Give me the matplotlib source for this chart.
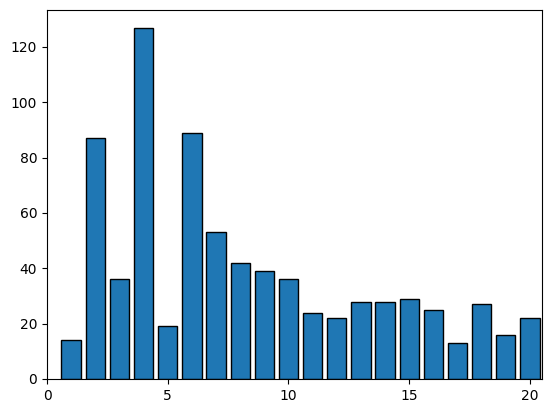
import numpy as np
import matplotlib
matplotlib.use('Agg')
import matplotlib.pyplot as plt

positions = np.arange(1, 21)
counts = [14, 87, 36, 127, 19, 89, 53, 42, 39, 36,
          24, 22, 28, 28, 29, 25, 13, 27, 16, 22]

fig = plt.figure(figsize=(5.52, 4.13), dpi=100)
ax = fig.add_axes([47/552, 34/413, 495/552, 369/413])
ax.bar(positions, counts, width=0.8, color='#1f77b4', edgecolor='black')
ax.set_xlim(0, 20.5)
ax.set_xticks([0, 5, 10, 15, 20])

fig.savefig('out.png', dpi=100)
